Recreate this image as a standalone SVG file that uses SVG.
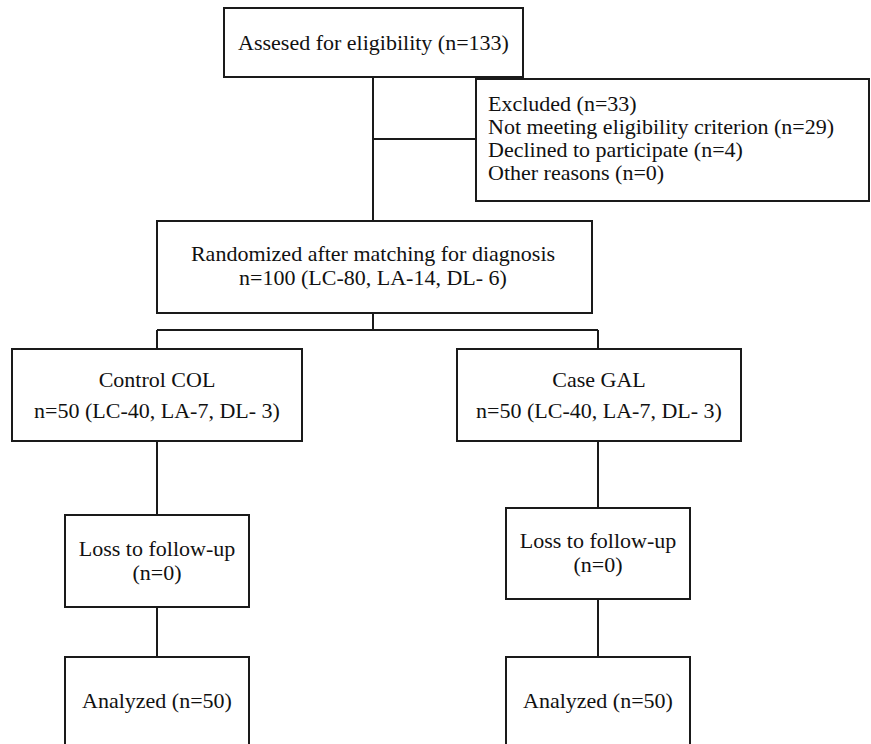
<svg xmlns="http://www.w3.org/2000/svg" width="871" height="744" viewBox="0 0 871 744">
<style>
.box{fill:#fff;stroke:#1a1a1a;stroke-width:2}
.ln{fill:none;stroke:#1a1a1a;stroke-width:2}
text{font-family:"Liberation Serif","Times New Roman",serif;font-size:22px;fill:#111}
.c{text-anchor:middle}
</style>
<rect width="871" height="744" fill="#fff"/>
<g id="connectors">
<path class="ln" d="M373 77V221"/>
<path class="ln" d="M373 139H476"/>
<path class="ln" d="M373 313V330M157 330H598M157 330V349M598 330V349"/>
<path class="ln" d="M157 441V515M157 607V657"/>
<path class="ln" d="M598 441V508M598 599V657"/>
</g>
<g id="assessed">
<rect class="box" x="224" y="8" width="299" height="69"/>
<text class="c" x="373.5" y="50">Assesed for eligibility (n=133)</text>
</g>
<g id="excluded">
<rect class="box" x="476" y="79" width="393" height="122"/>
<text x="488" y="111">Excluded (n=33)</text>
<text x="488" y="134">Not meeting eligibility criterion (n=29)</text>
<text x="488" y="157">Declined to participate (n=4)</text>
<text x="488" y="180">Other reasons (n=0)</text>
</g>
<g id="randomized">
<rect class="box" x="157" y="221" width="435" height="92"/>
<text class="c" x="373" y="261">Randomized after matching for diagnosis</text>
<text class="c" x="373" y="285">n=100 (LC-80, LA-14, DL- 6)</text>
</g>
<g id="control">
<rect class="box" x="12" y="349" width="290" height="92"/>
<text class="c" x="157" y="387">Control COL</text>
<text class="c" x="157" y="418">n=50 (LC-40, LA-7, DL- 3)</text>
</g>
<g id="case">
<rect class="box" x="457" y="349" width="284" height="92"/>
<text class="c" x="599" y="387">Case GAL</text>
<text class="c" x="599" y="418">n=50 (LC-40, LA-7, DL- 3)</text>
</g>
<g id="loss-control">
<rect class="box" x="65" y="515" width="184" height="92"/>
<text class="c" x="157" y="556">Loss to follow-up</text>
<text class="c" x="157" y="580">(n=0)</text>
</g>
<g id="loss-case">
<rect class="box" x="506" y="508" width="184" height="91"/>
<text class="c" x="598" y="548">Loss to follow-up</text>
<text class="c" x="598" y="572">(n=0)</text>
</g>
<g id="analyzed-control">
<rect class="box" x="65" y="657" width="184" height="100"/>
<text class="c" x="157" y="708">Analyzed (n=50)</text>
</g>
<g id="analyzed-case">
<rect class="box" x="506" y="657" width="184" height="100"/>
<text class="c" x="598" y="708">Analyzed (n=50)</text>
</g>
</svg>
